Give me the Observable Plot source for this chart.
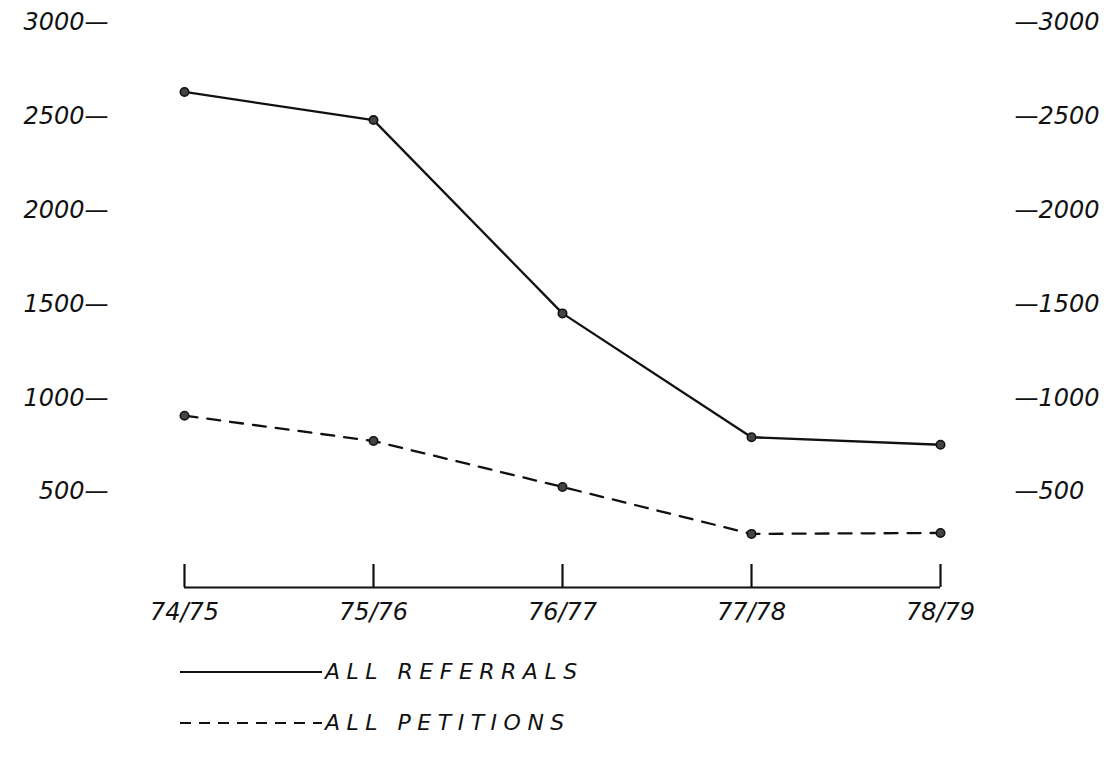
<!DOCTYPE html>
<html>
<head>
<meta charset="utf-8">
<script src="https://cdn.jsdelivr.net/npm/d3@7"></script>
<script src="https://cdn.jsdelivr.net/npm/@observablehq/plot@0.6"></script>
<style>
  html, body { margin: 0; padding: 0; background: #fff; }
  #wrap { position: relative; width: 1120px; height: 757px; overflow: hidden; }
  .legend { position: absolute; left: 180px; display: flex; align-items: center;
    font-family: "DejaVu Sans", sans-serif; font-style: italic; font-size: 22px;
    letter-spacing: 6.5px; color: #111; }
  .legend svg { display: block; margin-right: 3px; }
</style>
</head>
<body>
<div id="wrap"></div>
<script>
const years = ["74/75", "75/76", "76/77", "77/78", "78/79"];
const referrals = [2630, 2480, 1450, 790, 750];
const petitions = [905, 770, 525, 275, 280];
const yTicks = [500, 1000, 1500, 2000, 2500, 3000];
const seriesNames = ["ALL REFERRALS", "ALL PETITIONS"];

const rows = [
  ...years.map((yr, i) => ({year: yr, value: referrals[i], series: seriesNames[0]})),
  ...years.map((yr, i) => ({year: yr, value: petitions[i], series: seriesNames[1]}))
];

const H = 640;
const font = {fontFamily: "DejaVu Sans, sans-serif", fontStyle: "italic", fontSize: 24};

const chart = Plot.plot({
  width: 1120,
  height: H,
  marginLeft: 184,
  marginRight: 180,
  marginTop: 22,
  marginBottom: H - 585,
  style: {background: "white", color: "#111", fontFamily: "DejaVu Sans, sans-serif"},
  x: {type: "point", domain: years, padding: 0},
  y: {domain: [0, 3000]},
  marks: [
    Plot.axisY(yTicks, {anchor: "left", tickSize: 0, tickPadding: 76, tickFormat: d => `${d}—`, label: null, ...font, letterSpacing: "3.5px"}),
    Plot.axisY(yTicks, {anchor: "right", tickSize: 0, tickPadding: 74, tickFormat: d => `—${d}`, label: null, ...font, letterSpacing: "3.5px"}),
    Plot.axisX(years, {anchor: "bottom", tickSize: 0, tickPadding: 17, label: null, ...font, letterSpacing: "2.5px"}),
    Plot.ruleY([0], {stroke: "#111", strokeWidth: 2.2, dy: 2}),
    Plot.ruleX(years, {x: d => d, y1: 0, y2: 0, insetTop: -21, insetBottom: -2, stroke: "#111", strokeWidth: 2.2}),
    Plot.line(rows.filter(d => d.series === seriesNames[0]), {x: "year", y: "value", stroke: "#111", strokeWidth: 2.3}),
    Plot.line(rows.filter(d => d.series === seriesNames[1]), {x: "year", y: "value", stroke: "#111", strokeWidth: 2.3, strokeDasharray: "13,10"}),
    Plot.dot(rows, {x: "year", y: "value", r: 4.2, fill: "#444", stroke: "#111", strokeWidth: 1.6})
  ]
});

const wrap = document.getElementById("wrap");
wrap.appendChild(chart);

function legendItem(label, dash, top) {
  const div = document.createElement("div");
  div.className = "legend";
  div.style.top = top + "px";
  const ns = "http://www.w3.org/2000/svg";
  const svg = document.createElementNS(ns, "svg");
  svg.setAttribute("width", 142);
  svg.setAttribute("height", 10);
  const ln = document.createElementNS(ns, "line");
  ln.setAttribute("x1", 0); ln.setAttribute("x2", 142);
  ln.setAttribute("y1", 5); ln.setAttribute("y2", 5);
  ln.setAttribute("stroke", "#111");
  ln.setAttribute("stroke-width", 2);
  if (dash) ln.setAttribute("stroke-dasharray", "11,8");
  svg.appendChild(ln);
  div.appendChild(svg);
  const span = document.createElement("span");
  span.textContent = label;
  div.appendChild(span);
  wrap.appendChild(div);
}
legendItem(seriesNames[0], false, 659);
legendItem(seriesNames[1], true, 710);
</script>
</body>
</html>
